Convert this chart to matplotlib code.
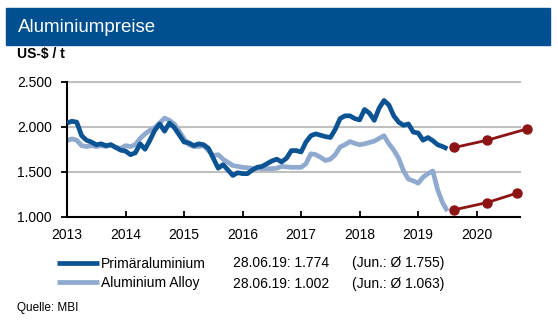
import numpy as np
import matplotlib
matplotlib.use("Agg")
import matplotlib.pyplot as plt
from matplotlib.patches import Rectangle

plt.rcParams['font.family'] = ['Liberation Sans', 'DejaVu Sans']

# monthly values Jan 2013 .. Jul 2019 (US-$/t)
primary = [
    2040, 2060, 2050, 1900, 1850, 1830, 1800, 1810, 1790, 1800, 1770, 1740,   # 2013
    1730, 1690, 1710, 1810, 1750, 1850, 1960, 2030, 1950, 2040, 1990, 1910,   # 2014
    1830, 1820, 1790, 1810, 1800, 1760, 1650, 1540, 1580, 1520, 1460, 1490,   # 2015
    1480, 1480, 1520, 1550, 1560, 1590, 1620, 1640, 1610, 1650, 1735, 1735,   # 2016
    1720, 1830, 1900, 1920, 1905, 1890, 1880, 1970, 2090, 2120, 2120, 2090,   # 2017
    2075, 2190, 2150, 2070, 2205, 2290, 2240, 2120, 2050, 2015, 2030, 1940,   # 2018
    1930, 1850, 1880, 1845, 1800, 1780, 1755,                                 # 2019
]
alloy = [
    1845, 1865, 1850, 1790, 1780, 1790, 1780, 1790, 1780, 1800, 1770, 1760,   # 2013
    1790, 1780, 1800, 1870, 1920, 1960, 1990, 2040, 2095, 2070, 2030, 1950,   # 2014
    1865, 1800, 1780, 1780, 1790, 1735, 1680, 1690, 1640, 1605, 1570, 1560,   # 2015
    1550, 1545, 1540, 1540, 1535, 1535, 1535, 1540, 1560, 1555, 1550, 1550,   # 2016
    1550, 1590, 1700, 1690, 1660, 1625, 1640, 1690, 1775, 1800, 1835, 1815,   # 2017
    1800, 1810, 1825, 1840, 1870, 1900, 1810, 1740, 1650, 1510, 1420, 1400,   # 2018
    1375, 1440, 1480, 1510, 1300, 1160, 1065,                                 # 2019
]
dates = 2013 + np.arange(len(primary)) / 12

# forecasts
fc_primary_x = [2019.62, 2020.18, 2020.86]
fc_primary = [1770, 1850, 1975]
fc_alloy_x = [2019.62, 2020.18, 2020.69]
fc_alloy = [1080, 1160, 1265]

years = list(range(2013, 2021))
yticks = [1000, 1500, 2000, 2500]
ytick_labels = ['1.000', '1.500', '2.000', '2.500']

names = ['Primäraluminium', 'Aluminium Alloy']
last_vals = ['28.06.19: 1.774', '28.06.19: 1.002']
avg_vals = ['(Jun.: Ø 1.755)', '(Jun.: Ø 1.063)']

dark = '#0c5393'
light = '#8fa9cf'
red = '#8c1414'

fig = plt.figure(figsize=(5.58, 3.26), dpi=100)
W, H = 558, 326

# title bar
fig.patches.append(Rectangle((6 / W, 1 - 45 / H), 544 / W, 37 / H,
                             transform=fig.transFigure, color='#004f90', zorder=0))
fig.text(18 / W, 1 - 27 / H, 'Aluminiumpreise', color='white', fontsize=13.5,
         va='center', ha='left')
fig.text(17 / W, 1 - 54 / H, 'US-$ / t', fontsize=10, fontweight='bold',
         va='center', ha='left')

ax = fig.add_axes([67 / W, 1 - 217 / H, (520 - 67) / W, (217 - 81.5) / H])
ax.set_xlim(2013, 2020.74)
ax.set_ylim(1000, 2500)

for v in yticks[1:]:
    ax.axhline(v, color='#c0c0c0', lw=1.5, zorder=1, clip_on=False)

l1, = ax.plot(dates, primary, color=dark, lw=3.4, solid_joinstyle='round',
              solid_capstyle='butt', zorder=3)
l2, = ax.plot(dates, alloy, color=light, lw=3.4, solid_joinstyle='round',
              solid_capstyle='butt', zorder=2)
ax.plot(fc_primary_x, fc_primary, color=red, lw=2, marker='o', ms=6.5,
        zorder=4, clip_on=False)
ax.plot(fc_alloy_x, fc_alloy, color=red, lw=2, marker='o', ms=6.5,
        zorder=4, clip_on=False)

ax.set_xticks(years)
ax.set_xticklabels([str(y) for y in years])
ax.set_yticks(yticks)
ax.set_yticklabels(ytick_labels)
ax.tick_params(axis='x', direction='in', length=4, width=1.3, pad=8, labelsize=10)
ax.tick_params(axis='y', direction='out', length=4, width=1.3, pad=7, labelsize=10)

for s in ['top', 'right']:
    ax.spines[s].set_visible(False)
for s in ['left', 'bottom']:
    ax.spines[s].set_linewidth(1.5)
    ax.spines[s].set_color('black')

# legend
fig.legend([l1, l2], names, loc='center left',
           bbox_to_anchor=(57 / W, 1 - 273.5 / H), frameon=False,
           fontsize=10, handlelength=3.0, handletextpad=0.15,
           labelspacing=0.4, borderpad=0, borderaxespad=0)
row_y = [1 - 263 / H, 1 - 284 / H]
for y, a, b in zip(row_y, last_vals, avg_vals):
    fig.text(233 / W, y, a, fontsize=10, va='center', ha='left')
    fig.text(352 / W, y, b, fontsize=10, va='center', ha='left')

fig.text(17 / W, 1 - 308 / H, 'Quelle: MBI', fontsize=8.5, va='center', ha='left')

fig.savefig('out.png', dpi=100)
